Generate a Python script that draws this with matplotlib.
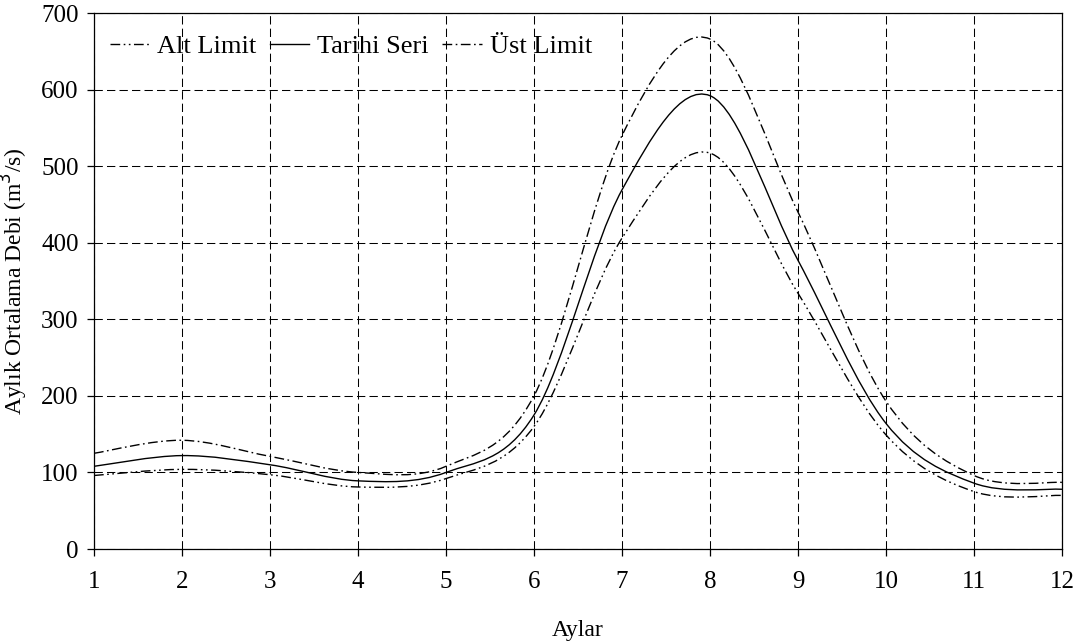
import numpy as np
import matplotlib
matplotlib.use("Agg")
import matplotlib.pyplot as plt
from matplotlib.path import Path
from matplotlib.patches import PathPatch
from matplotlib.lines import Line2D

months = [1, 2, 3, 4, 5, 6, 7, 8, 9, 10, 11, 12]
alt_limit = [96, 104, 97, 81, 92, 160, 406, 517, 334, 149, 75, 70]
tarihi_seri = [108, 122, 110, 89, 100, 175, 469, 592, 377, 164, 86, 78]
ust_limit = [125, 142, 121, 100, 108, 200, 540, 666, 440, 193, 96, 87]

labels = ["Alt Limit", "Tarihi Seri", "Üst Limit"]
series = [alt_limit, tarihi_seri, ust_limit]
styles = [
    (0, (7, 2.5, 1.2, 2.5, 1.2, 2.5)),
    "-",
    (0, (7, 2.5, 1.2, 2.5)),
]

plt.rcParams["font.family"] = ["Liberation Serif", "DejaVu Serif"]


def smooth_path(x, y):
    """Cubic Bezier path through the points (Catmull-Rom style smoothing)."""
    pts = np.column_stack([x, y]).astype(float)
    n = len(pts)
    verts = [pts[0]]
    codes = [Path.MOVETO]
    for i in range(n - 1):
        p0 = pts[i - 1] if i > 0 else pts[i]
        p1 = pts[i]
        p2 = pts[i + 1]
        p3 = pts[i + 2] if i + 2 < n else pts[i + 1]
        c1 = p1 + (p2 - p0) / 6.0
        c2 = p2 - (p3 - p1) / 6.0
        verts += [c1, c2, p2]
        codes += [Path.CURVE4] * 3
    return Path(verts, codes)


fig = plt.figure(figsize=(10.88, 6.42), dpi=100)
ax = fig.add_axes([94 / 1088, 1 - 549 / 642, (1062 - 94) / 1088, (549 - 13) / 642])

handles = []
for vals, lab, ls in zip(series, labels, styles):
    patch = PathPatch(smooth_path(months, vals), fill=False, edgecolor="black",
                      linewidth=1.0, linestyle=ls, zorder=3)
    ax.add_patch(patch)
    handles.append(Line2D([], [], color="black", linewidth=1.0, linestyle=ls))

ax.set_xlim(1, 12)
ax.set_ylim(0, 700)
ax.set_xticks(months)
ax.set_yticks(np.arange(0, 701, 100))

ax.grid(True, color="black", linestyle=(0, (8, 4)), linewidth=0.75)
ax.set_axisbelow(True)
for s in ax.spines.values():
    s.set_linewidth(0.9)
    s.set_color("black")

ax.tick_params(axis="both", direction="out", length=5, width=0.9,
               labelsize=18, colors="black")
ax.tick_params(axis="x", pad=11)
ax.tick_params(axis="y", pad=6)

ax.set_xlabel("Aylar", fontsize=17, labelpad=19)
ax.set_ylabel("Aylık Ortalama Debi (m$^3$/s)", fontsize=17, labelpad=8)

ax.legend(handles, labels, loc="upper left", ncol=3, frameon=False,
          fontsize=19, handlelength=1.5, handletextpad=0.3,
          columnspacing=0.5, borderaxespad=0.2,
          bbox_to_anchor=(0.0, 1.0 - 6 / 536))

fig.savefig("out.png", dpi=100)
